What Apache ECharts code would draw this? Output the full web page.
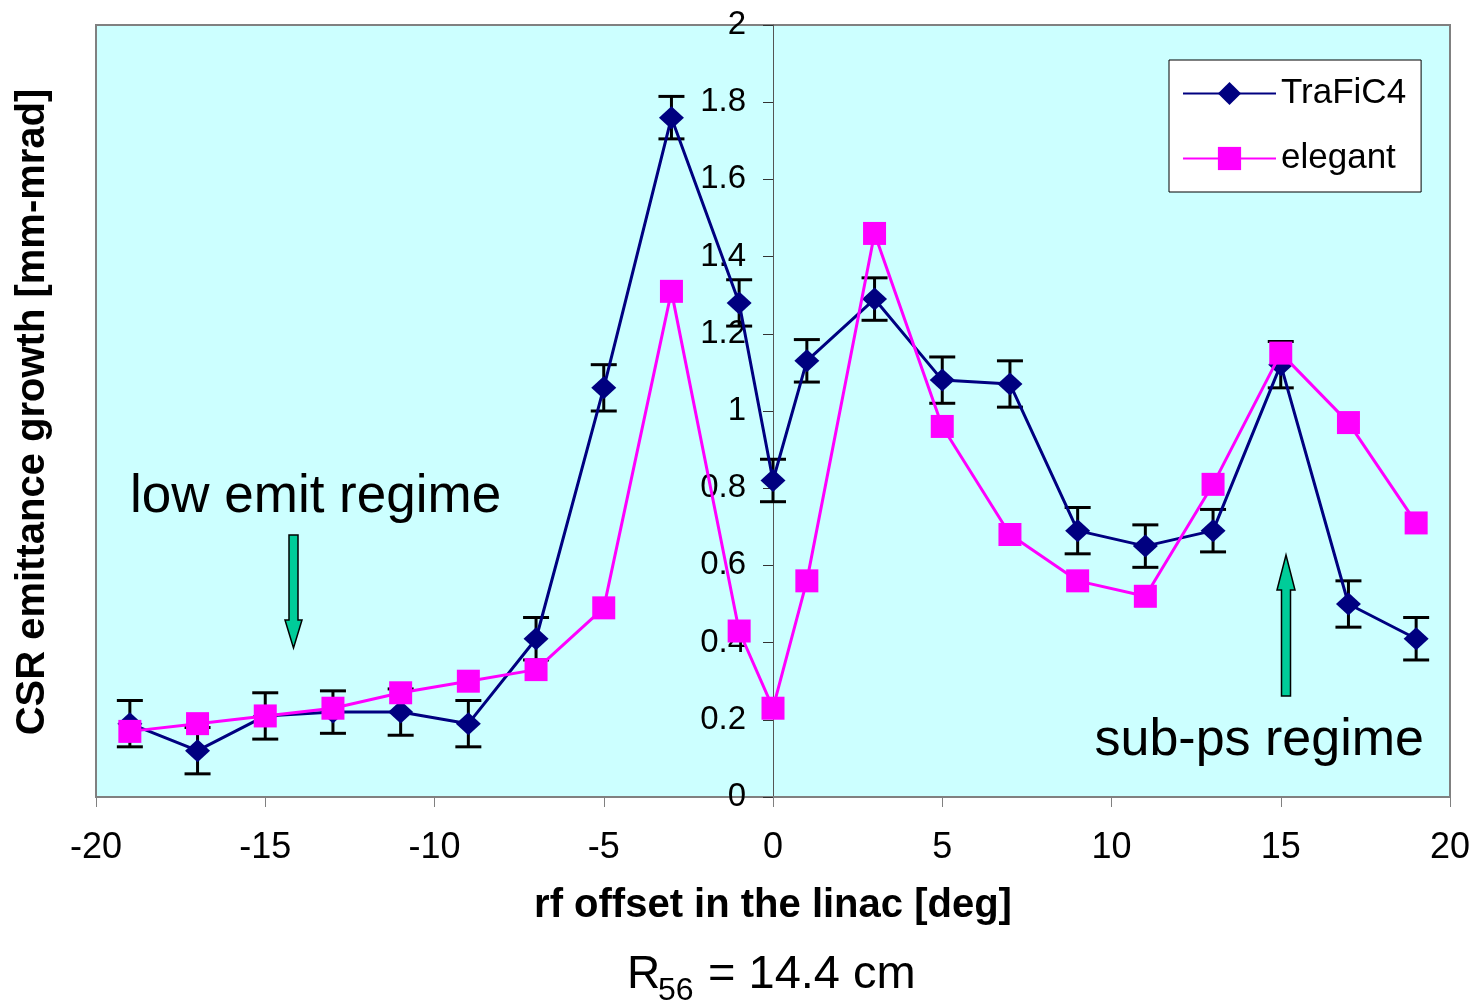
<!DOCTYPE html>
<html>
<head>
<meta charset="utf-8">
<script src="https://cdn.jsdelivr.net/npm/echarts@6/dist/echarts.min.js"></script>
<style>
html,body{margin:0;padding:0;background:#fff;}
#c{width:1476px;height:1008px;}
</style>
</head>
<body>
<div id="c"></div>
<script>
// ---- data ----
var rfOffset = [-19,-17,-15,-13,-11,-9,-7,-5,-3,-1,0,1,3,5,7,9,11,13,15,17,19];
var trafic4 = [0.19,0.12,0.21,0.22,0.22,0.19,0.41,1.06,1.76,1.28,0.82,1.13,1.29,1.08,1.07,0.69,0.65,0.69,1.12,0.50,0.41];
var trafic4Err = [0.06,0.06,0.06,0.055,0.06,0.06,0.055,0.06,0.055,0.06,0.055,0.055,0.055,0.06,0.06,0.06,0.055,0.055,0.06,0.06,0.055];
var elegant = [0.17,0.19,0.21,0.23,0.27,0.30,0.33,0.49,1.31,0.43,0.23,0.56,1.46,0.96,0.68,0.56,0.52,0.81,1.15,0.97,0.71];
var xTicks = [-20,-15,-10,-5,0,5,10,15,20];
var yTicks = [0,0.2,0.4,0.6,0.8,1,1.2,1.4,1.6,1.8,2];

var FONT = "'Liberation Sans', Arial, sans-serif";

var traficData = rfOffset.map(function(x,i){return [x, trafic4[i]];});
var elegantData = rfOffset.map(function(x,i){return [x, elegant[i]];});
var errData = rfOffset.map(function(x,i){return [x, trafic4[i]-trafic4Err[i], trafic4[i]+trafic4Err[i]];});

var GRID_LEFT = 96, GRID_RIGHT = 26;
var gridW = 1476 - GRID_LEFT - GRID_RIGHT;
var xMin = xTicks[0], xMax = xTicks[xTicks.length-1];
// shift the y axis so it sits on x = 0 (labels included)
var yAxisOffset = -gridW * (0 - xMin) / (xMax - xMin);

var chart = echarts.init(document.getElementById('c'), null, {renderer:'canvas'});

function arrow(cx, yTail, yHeadBase, yTip, shaftW, headW){
  var s = shaftW/2, h = headW/2;
  return [[cx-s,yTail],[cx+s,yTail],[cx+s,yHeadBase],[cx+h,yHeadBase],[cx,yTip],[cx-h,yHeadBase],[cx-s,yHeadBase]];
}

var option = {
  animation:false,
  backgroundColor:'#ffffff',
  grid:{left:GRID_LEFT,right:GRID_RIGHT,top:25,bottom:211,show:true,backgroundColor:'#CCFFFF',borderColor:'#808080',borderWidth:2},
  xAxis:{
    type:'value',min:xMin,max:xMax,interval:5,
    axisLine:{onZero:false,lineStyle:{color:'#808080',width:2}},
    axisTick:{show:true,length:10,lineStyle:{color:'#808080',width:1}},
    axisLabel:{fontSize:36,color:'#000',fontFamily:FONT,margin:33},
    splitLine:{show:false},
    name:'rf offset in the linac [deg]',nameLocation:'middle',nameGap:89,
    nameTextStyle:{fontSize:40,fontWeight:'bold',color:'#000',fontFamily:FONT}
  },
  yAxis:{
    type:'value',min:yTicks[0],max:yTicks[yTicks.length-1],interval:0.2,
    position:'left',offset:yAxisOffset,
    axisLine:{show:true,onZero:false,lineStyle:{color:'#555',width:1}},
    axisTick:{show:true,length:10,lineStyle:{color:'#333',width:1}},
    axisLabel:{fontSize:33,color:'#000',fontFamily:FONT,margin:27},
    splitLine:{show:false}
  },
  legend:{
    data:['TraFiC4','elegant'],
    orient:'vertical',left:1169,top:60,
    backgroundColor:'#ffffff',borderColor:'#000',borderWidth:1,
    padding:[16,15,16,13],
    itemWidth:93,itemHeight:29,itemGap:30,
    textStyle:{fontSize:35,color:'#000',fontFamily:FONT}
  },
  series:[
    {
      type:'custom',name:'err',z:2,
      data:errData,
      renderItem:function(params, api){
        var x = api.value(0);
        var lo = api.coord([x, api.value(1)]);
        var hi = api.coord([x, api.value(2)]);
        var cw = 13;
        var st = {stroke:'#000',lineWidth:3};
        return {type:'group',children:[
          {type:'line',shape:{x1:lo[0],y1:lo[1],x2:hi[0],y2:hi[1]},style:st},
          {type:'line',shape:{x1:lo[0]-cw,y1:lo[1],x2:lo[0]+cw,y2:lo[1]},style:st},
          {type:'line',shape:{x1:hi[0]-cw,y1:hi[1],x2:hi[0]+cw,y2:hi[1]},style:st}
        ]};
      },
      silent:true
    },
    {
      type:'line',name:'TraFiC4',z:3,data:traficData,
      symbol:'diamond',symbolSize:[25,23],
      lineStyle:{color:'#000080',width:3},
      itemStyle:{color:'#000080'}
    },
    {
      type:'line',name:'elegant',z:4,data:elegantData,
      symbol:'rect',symbolSize:[23,23],
      lineStyle:{color:'#FF00FF',width:3},
      itemStyle:{color:'#FF00FF'}
    }
  ],
  graphic:[
    {type:'text',x:33,y:412,rotation:Math.PI/2,
     style:{text:'CSR emittance growth [mm-mrad]',font:'bold 40px '+FONT,fill:'#000',align:'center',verticalAlign:'middle'}},
    {type:'text',x:130,y:497,
     style:{text:'low emit regime',font:'53px '+FONT,fill:'#000',align:'left',verticalAlign:'middle'}},
    {type:'text',x:1424,y:741,
     style:{text:'sub-ps regime',font:'52px '+FONT,fill:'#000',align:'right',verticalAlign:'middle'}},
    {type:'polygon',shape:{points:arrow(293.5,535,620,648,9,17)},style:{fill:'#00CC99',stroke:'#000',lineWidth:1.5}},
    {type:'polygon',shape:{points:arrow(1286,696,590,555,9,18)},style:{fill:'#00CC99',stroke:'#000',lineWidth:1.5}},
    {type:'text',x:627,y:975,
     style:{text:'R',font:'46px '+FONT,fill:'#000',align:'left',verticalAlign:'middle'}},
    {type:'text',x:658,y:991,
     style:{text:'56',font:'32px '+FONT,fill:'#000',align:'left',verticalAlign:'middle'}},
    {type:'text',x:708,y:975,
     style:{text:'= 14.4 cm',font:'47px '+FONT,fill:'#000',align:'left',verticalAlign:'middle'}}
  ]
};
chart.setOption(option);
</script>
</body>
</html>
